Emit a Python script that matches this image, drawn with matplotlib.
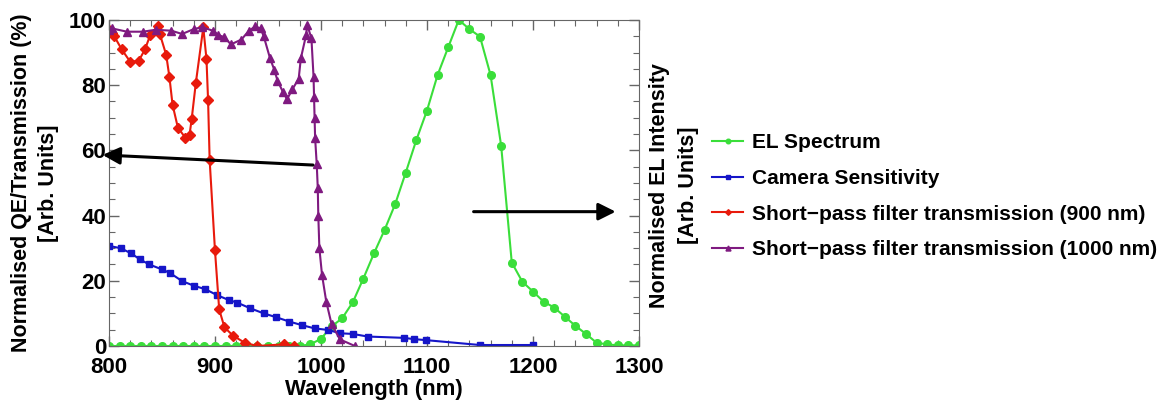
import matplotlib.pyplot as plt
from matplotlib.ticker import MultipleLocator

plt.rcParams['font.family'] = ['Liberation Sans', 'DejaVu Sans']
plt.rcParams['font.weight'] = 'bold'

# EL spectrum, 10 nm steps
el_wl = [800, 810, 820, 830, 840, 850, 860, 870, 880, 890, 900, 910, 920, 930, 940,
         950, 960, 970, 980, 990, 1000, 1010, 1020, 1030, 1040, 1050, 1060, 1070,
         1080, 1090, 1100, 1110, 1120, 1130, 1140, 1150, 1160, 1170, 1180, 1190,
         1200, 1210, 1220, 1230, 1240, 1250, 1260, 1270, 1280, 1290, 1300]
el_val = [0, 0, 0, 0, 0, 0, 0, 0, 0, 0, 0, 0, 0, 0, 0,
          0, 0, 0, 0, 0.5, 2.2, 6, 8.5, 13.4, 20.7, 28.4, 35.6, 43.5,
          53.2, 63.2, 72.2, 83.1, 91.6, 100, 97.2, 94.9, 83.1, 61.4, 25.6, 19.7,
          16.7, 13.6, 11.8, 9, 6.2, 3.7, 1.0, 0.5, 0.2, 0.2, 0.2]

# camera sensitivity
cam_wl = [800, 811, 821, 829, 838, 850, 858, 869, 880, 891, 902, 913, 921, 933, 946,
          958, 970, 982, 994, 1007, 1018, 1030, 1044, 1078, 1088, 1099, 1150, 1200]
cam_val = [30.7, 30, 28.4, 26.6, 25, 23.5, 22.3, 19.9, 18.5, 17.4, 15.6, 14.1, 13.3,
           11.6, 10, 8.8, 7.5, 6.4, 5.4, 4.9, 3.9, 3.7, 2.9, 2.5, 2.1, 1.8, 0.3, 0.3]

# short-pass 900 nm
sp900_wl = [800, 803, 805, 812, 820, 828, 834, 839, 846, 848, 854, 857, 860, 865, 872,
            876, 878, 882, 889, 892, 893.5, 895, 900, 904, 909, 917, 928, 940, 965, 975]
sp900_val = [97, 96, 95, 91, 87.2, 87.4, 91, 95.4, 98.2, 95.7, 89.3, 82.6, 74, 67, 63.9,
             64.7, 69.5, 80.8, 97.7, 88, 75.5, 57, 29.4, 11.2, 5.7, 3.2, 1, 0, 0.5, 0]

# short-pass 1000 nm
sp1000_wl = [800, 803, 817, 832, 844, 859, 869, 880, 888, 898, 903, 909, 915, 925, 932,
             938, 943, 946, 952, 956, 959, 964, 968, 973, 979, 981, 986, 987, 991, 993,
             993.5, 994, 994.5, 996, 997, 997.5, 998.5, 1001, 1005, 1010, 1018, 1032]
sp1000_val = [97, 97.4, 96.4, 96.4, 97, 96.7, 95.7, 97.2, 97.8, 96.7, 95.4, 94.7, 92.5,
              94, 96.7, 98, 97.4, 95, 88.2, 84.7, 81.4, 78, 75.7, 78.7, 82, 88.2, 95.4,
              98.5, 94.4, 82.6, 76.3, 69.8, 63.7, 55.8, 48.4, 39.9, 30, 21.8, 13.6, 6.7,
              2, 0]

labels = ["EL Spectrum", "Camera Sensitivity",
          "Short\u2212pass filter transmission (900 nm)",
          "Short\u2212pass filter transmission (1000 nm)"]

fig = plt.figure(figsize=(11.69, 4.05), dpi=100)
ax = fig.add_axes([0.0932, 0.1457, 0.4534, 0.805])

l1, = ax.plot(el_wl, el_val, color='#3ade3a', lw=1.5, marker='o', ms=5.5)
l2, = ax.plot(cam_wl, cam_val, color='#1515c8', lw=1.5, marker='s', ms=4.2)
l3, = ax.plot(sp900_wl, sp900_val, color='#e81a0c', lw=1.5, marker='D', ms=4.8)
l4, = ax.plot(sp1000_wl, sp1000_val, color='#7f1a80', lw=1.5, marker='^', ms=6)

ax.set_xlim(800, 1300)
ax.set_ylim(0, 100)
ax.xaxis.set_major_locator(MultipleLocator(100))
ax.xaxis.set_minor_locator(MultipleLocator(20))
ax.yaxis.set_major_locator(MultipleLocator(20))
ax.yaxis.set_minor_locator(MultipleLocator(5))
ax.tick_params(which='both', direction='in', top=True, right=True, color='#666666')
ax.tick_params(which='major', length=7, width=1, labelsize=16, pad=2)
ax.tick_params(axis='x', which='major', pad=8)
ax.tick_params(which='minor', length=4, width=0.8)
for s in ax.spines.values():
    s.set_color('#666666')

ax.set_xlabel("Wavelength (nm)", fontsize=16, fontweight='bold', labelpad=1)
fig.text(0.030, 0.548, "Normalised QE/Transmission (%)\n[Arb. Units]", rotation=90,
         ha='center', va='center', ma='center', fontsize=15.5, fontweight='bold',
         linespacing=1.4)
fig.text(0.5765, 0.543, "Normalised EL Intensity\n[Arb. Units]", rotation=90,
         ha='center', va='center', ma='center', fontsize=15.5, fontweight='bold',
         linespacing=1.5)

arrow = dict(arrowstyle='-|>', color='black', lw=2.2, mutation_scale=26,
             shrinkA=0, shrinkB=0)
ax.annotate('', xy=(794, 58.6), xytext=(992.5, 55.5), arrowprops=arrow,
            annotation_clip=False)
ax.annotate('', xy=(1278, 41.2), xytext=(1144, 41.2), arrowprops=arrow,
            annotation_clip=False)

fig.legend([l1, l2, l3, l4], labels, loc='upper left', bbox_to_anchor=(0.593, 0.717),
           frameon=False, prop={'weight': 'bold', 'size': 15},
           handlelength=1.5, handletextpad=0.4, labelspacing=0.8, markerscale=0.6,
           numpoints=1)

fig.savefig("out.png", dpi=100)
plt.close(fig)
